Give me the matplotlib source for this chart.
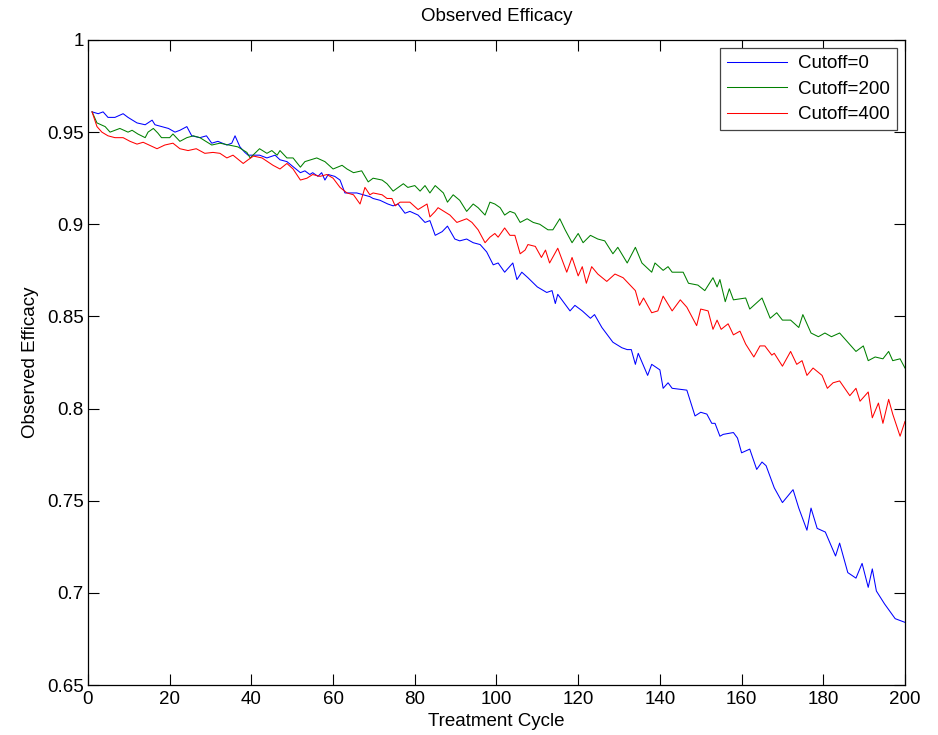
import matplotlib
matplotlib.use("Agg")
import matplotlib.pyplot as plt
from matplotlib.ticker import FuncFormatter

# Cutoff=0 (blue)
cycle_c0 = [1, 2.5, 3.7, 4.9, 6.6, 8.6, 9.8, 12, 14, 15.7, 16.4, 18, 19.7, 21.3, 22.5,
            24.2, 25.4, 27.4, 29, 30.3, 31.8, 34, 35.2, 36, 37.2, 38.4, 39.2, 42, 43.8,
            45.8, 47, 48.7, 52, 53.1, 54.3, 55, 56.3, 57.2, 58, 58.8, 60.4, 61.7, 62.9,
            64, 65.8, 67.4, 69, 69.8, 71.5, 73.4, 74.7, 75.9, 77.6, 78.8, 80.8, 82.5,
            83.7, 85, 86.7, 88, 89.8, 91, 92.7, 94.3, 96, 97.6, 99.2, 100.4, 102, 104,
            105, 106.2, 107.7, 110, 112.3, 113.6, 114.4, 115, 118, 119.2, 121, 123, 124,
            125.8, 128.5, 130.7, 132, 133, 134, 134.7, 137, 138, 140, 140.8, 142, 143,
            146.6, 148.6, 150, 151.5, 152.7, 153.5, 154.7, 155.5, 158, 159, 160, 162,
            163.7, 165, 166, 168, 170, 172.6, 174, 176, 177, 178.5, 180.5, 183, 184,
            186, 188, 189.5, 191, 192, 193, 195, 197.6, 200]
eff_c0 = [0.961, 0.960, 0.961, 0.958, 0.958, 0.960, 0.958, 0.955, 0.954, 0.9565, 0.954,
          0.953, 0.952, 0.950, 0.951, 0.953, 0.948, 0.947, 0.948, 0.944, 0.945, 0.943,
          0.944, 0.948, 0.942, 0.939, 0.9375, 0.9375, 0.936, 0.9375, 0.935, 0.934, 0.928,
          0.929, 0.927, 0.928, 0.926, 0.928, 0.924, 0.927, 0.926, 0.924, 0.917, 0.917,
          0.917, 0.916, 0.915, 0.914, 0.913, 0.911, 0.910, 0.911, 0.906, 0.907, 0.905,
          0.901, 0.902, 0.894, 0.896, 0.899, 0.892, 0.891, 0.892, 0.890, 0.889, 0.885,
          0.878, 0.879, 0.874, 0.879, 0.870, 0.874, 0.871, 0.866, 0.863, 0.864, 0.857,
          0.862, 0.853, 0.856, 0.853, 0.849, 0.851, 0.844, 0.836, 0.833, 0.832, 0.832,
          0.824, 0.830, 0.818, 0.824, 0.821, 0.811, 0.814, 0.811, 0.810, 0.796, 0.798,
          0.797, 0.792, 0.792, 0.785, 0.786, 0.787, 0.784, 0.776, 0.778, 0.767, 0.771,
          0.769, 0.757, 0.749, 0.756, 0.746, 0.734, 0.746, 0.735, 0.733, 0.720, 0.727,
          0.711, 0.708, 0.716, 0.703, 0.713, 0.701, 0.694, 0.686, 0.684]

# Cutoff=200 (green)
cycle_c200 = [1, 2.2, 4.2, 5.4, 6.6, 7.8, 9.8, 10.8, 12.2, 14, 14.7, 16, 17.1, 18, 20,
              20.8, 22.5, 24.2, 25.8, 27.4, 30.3, 32.3, 34.5, 36.7, 38.9, 39.7, 42, 43.8,
              45, 46.3, 47, 48.7, 50.2, 52, 53.1, 56, 58, 60, 62.2, 63.4, 65, 67, 68.6,
              69.8, 72, 73.2, 74.7, 77.2, 78.3, 80, 81.3, 82.5, 83.7, 85, 87, 88, 89.4,
              91, 92.7, 94.3, 95.5, 97.2, 98.4, 99.6, 100.9, 102, 103.3, 104.5, 105.8,
              107.5, 109, 110.6, 112.6, 113.8, 115.5, 116.8, 118.5, 120, 121.2, 123,
              124.8, 126.5, 128.5, 129.7, 132, 134, 135.6, 138, 138.8, 140.8, 142, 143,
              145.7, 147, 149.3, 151, 153, 154, 154.7, 156, 157, 158, 161, 162, 163, 165,
              167, 168.6, 170, 172, 174, 175, 177, 178.8, 180.4, 182, 184, 188, 189.8,
              191, 192.7, 194.6, 196, 197, 198.8, 200]
eff_c200 = [0.961, 0.955, 0.953, 0.950, 0.951, 0.952, 0.950, 0.951, 0.949, 0.947, 0.950,
            0.952, 0.9495, 0.947, 0.947, 0.949, 0.945, 0.947, 0.948, 0.947, 0.943, 0.944,
            0.943, 0.942, 0.939, 0.936, 0.941, 0.9385, 0.940, 0.9375, 0.940, 0.936, 0.936,
            0.931, 0.934, 0.936, 0.934, 0.930, 0.932, 0.930, 0.928, 0.929, 0.923, 0.925,
            0.924, 0.922, 0.918, 0.922, 0.920, 0.921, 0.918, 0.921, 0.917, 0.921, 0.917,
            0.912, 0.916, 0.913, 0.907, 0.911, 0.909, 0.905, 0.912, 0.911, 0.909, 0.905,
            0.907, 0.906, 0.901, 0.903, 0.901, 0.900, 0.897, 0.897, 0.903, 0.897, 0.890,
            0.895, 0.890, 0.894, 0.892, 0.891, 0.884, 0.8875, 0.879, 0.8875, 0.879, 0.874,
            0.879, 0.875, 0.877, 0.874, 0.874, 0.868, 0.867, 0.864, 0.871, 0.866, 0.870,
            0.858, 0.865, 0.859, 0.860, 0.854, 0.856, 0.860, 0.849, 0.852, 0.848, 0.848,
            0.844, 0.851, 0.841, 0.839, 0.841, 0.839, 0.841, 0.831, 0.834, 0.826, 0.828,
            0.827, 0.831, 0.826, 0.827, 0.822]

# Cutoff=400 (red)
cycle_c400 = [1, 2.2, 3.4, 4.9, 6.6, 8.6, 10.3, 12, 13.5, 16.9, 18.8, 20.8, 22.5, 24.5,
              26.5, 28.6, 30.6, 32.3, 34, 35.5, 38, 39.2, 40.5, 42.6, 45.3, 47, 48.7, 50.2,
              52, 53.6, 55, 56.8, 58.5, 60, 61.7, 63.4, 65, 66.6, 67.8, 69, 69.8, 72, 73.2,
              74.4, 75.2, 76.4, 78.8, 80.8, 83, 83.7, 85, 85.7, 88.6, 90.3, 92.7, 94, 95.5,
              97.2, 98.4, 99.6, 100.4, 102, 103.3, 104.5, 105.8, 107, 107.7, 109.5, 111,
              112, 113, 115, 117.2, 118.5, 120, 121, 122, 123.3, 124.8, 127, 129, 131,
              132.7, 134, 135, 136, 138, 139.5, 140.8, 143, 145, 146.6, 149, 150, 151.8,
              153, 154, 155, 156.7, 158, 159.6, 161, 163, 164.5, 165.7, 167.4, 168, 170,
              172, 173.5, 174.8, 176, 177.5, 179.7, 181, 182.4, 184, 186.5, 188, 189, 191,
              192, 193.5, 194.6, 196, 197, 198.8, 200]
eff_c400 = [0.961, 0.953, 0.950, 0.948, 0.947, 0.947, 0.945, 0.9435, 0.9445, 0.941, 0.943,
            0.944, 0.941, 0.940, 0.941, 0.9385, 0.939, 0.9385, 0.936, 0.9375, 0.933, 0.935,
            0.937, 0.936, 0.932, 0.930, 0.933, 0.930, 0.924, 0.925, 0.927, 0.926, 0.927,
            0.925, 0.920, 0.917, 0.916, 0.911, 0.920, 0.916, 0.917, 0.916, 0.914, 0.914,
            0.910, 0.912, 0.912, 0.908, 0.911, 0.904, 0.907, 0.909, 0.905, 0.901, 0.903,
            0.901, 0.897, 0.890, 0.893, 0.895, 0.893, 0.898, 0.894, 0.894, 0.884, 0.886,
            0.889, 0.888, 0.882, 0.886, 0.879, 0.887, 0.874, 0.882, 0.872, 0.877, 0.868,
            0.877, 0.873, 0.869, 0.873, 0.871, 0.867, 0.864, 0.856, 0.860, 0.852, 0.853,
            0.861, 0.853, 0.859, 0.855, 0.845, 0.854, 0.853, 0.843, 0.848, 0.843, 0.846,
            0.840, 0.842, 0.835, 0.828, 0.834, 0.834, 0.829, 0.830, 0.823, 0.831, 0.824,
            0.826, 0.818, 0.822, 0.818, 0.811, 0.814, 0.815, 0.807, 0.811, 0.804, 0.809,
            0.795, 0.803, 0.792, 0.805, 0.797, 0.785, 0.793]

x_ticks = [0, 20, 40, 60, 80, 100, 120, 140, 160, 180, 200]
y_ticks = [0.65, 0.7, 0.75, 0.8, 0.85, 0.9, 0.95, 1.0]

plt.rcParams["font.family"] = ["Liberation Sans", "DejaVu Sans"]
fs = 13.5

fig = plt.figure(figsize=(9.38, 7.35), dpi=100)
ax = fig.add_axes([0.0938, 0.068, 0.871, 0.8776])

ax.plot(cycle_c0, eff_c0, color=(0, 0, 1), lw=0.75, label="Cutoff=0")
ax.plot(cycle_c200, eff_c200, color=(0, 0.5, 0), lw=0.75, label="Cutoff=200")
ax.plot(cycle_c400, eff_c400, color=(1, 0, 0), lw=0.75, label="Cutoff=400")

ax.set_xlim(0, 200)
ax.set_ylim(0.65, 1.0)
ax.set_xticks(x_ticks)
ax.set_yticks(y_ticks)
ax.yaxis.set_major_formatter(FuncFormatter(lambda v, p: f"{v:g}"))
ax.tick_params(direction="in", top=True, right=True, length=8, width=0.8,
               labelsize=fs)
ax.tick_params(axis="x", pad=4)
ax.tick_params(axis="y", pad=3)
for s in ax.spines.values():
    s.set_linewidth(0.9)

ax.set_title("Observed Efficacy", fontsize=fs, pad=14)
ax.set_xlabel("Treatment Cycle", fontsize=fs, labelpad=4)
ax.set_ylabel("Observed Efficacy", fontsize=fs, labelpad=6)

leg = ax.legend(loc="upper right", fontsize=fs, fancybox=False, framealpha=1,
                edgecolor="#444444", handlelength=3.2, labelspacing=0.45,
                borderaxespad=0.45, borderpad=0.35, handletextpad=0.6)
leg.get_frame().set_linewidth(0.9)

fig.savefig("out.png", dpi=100)
